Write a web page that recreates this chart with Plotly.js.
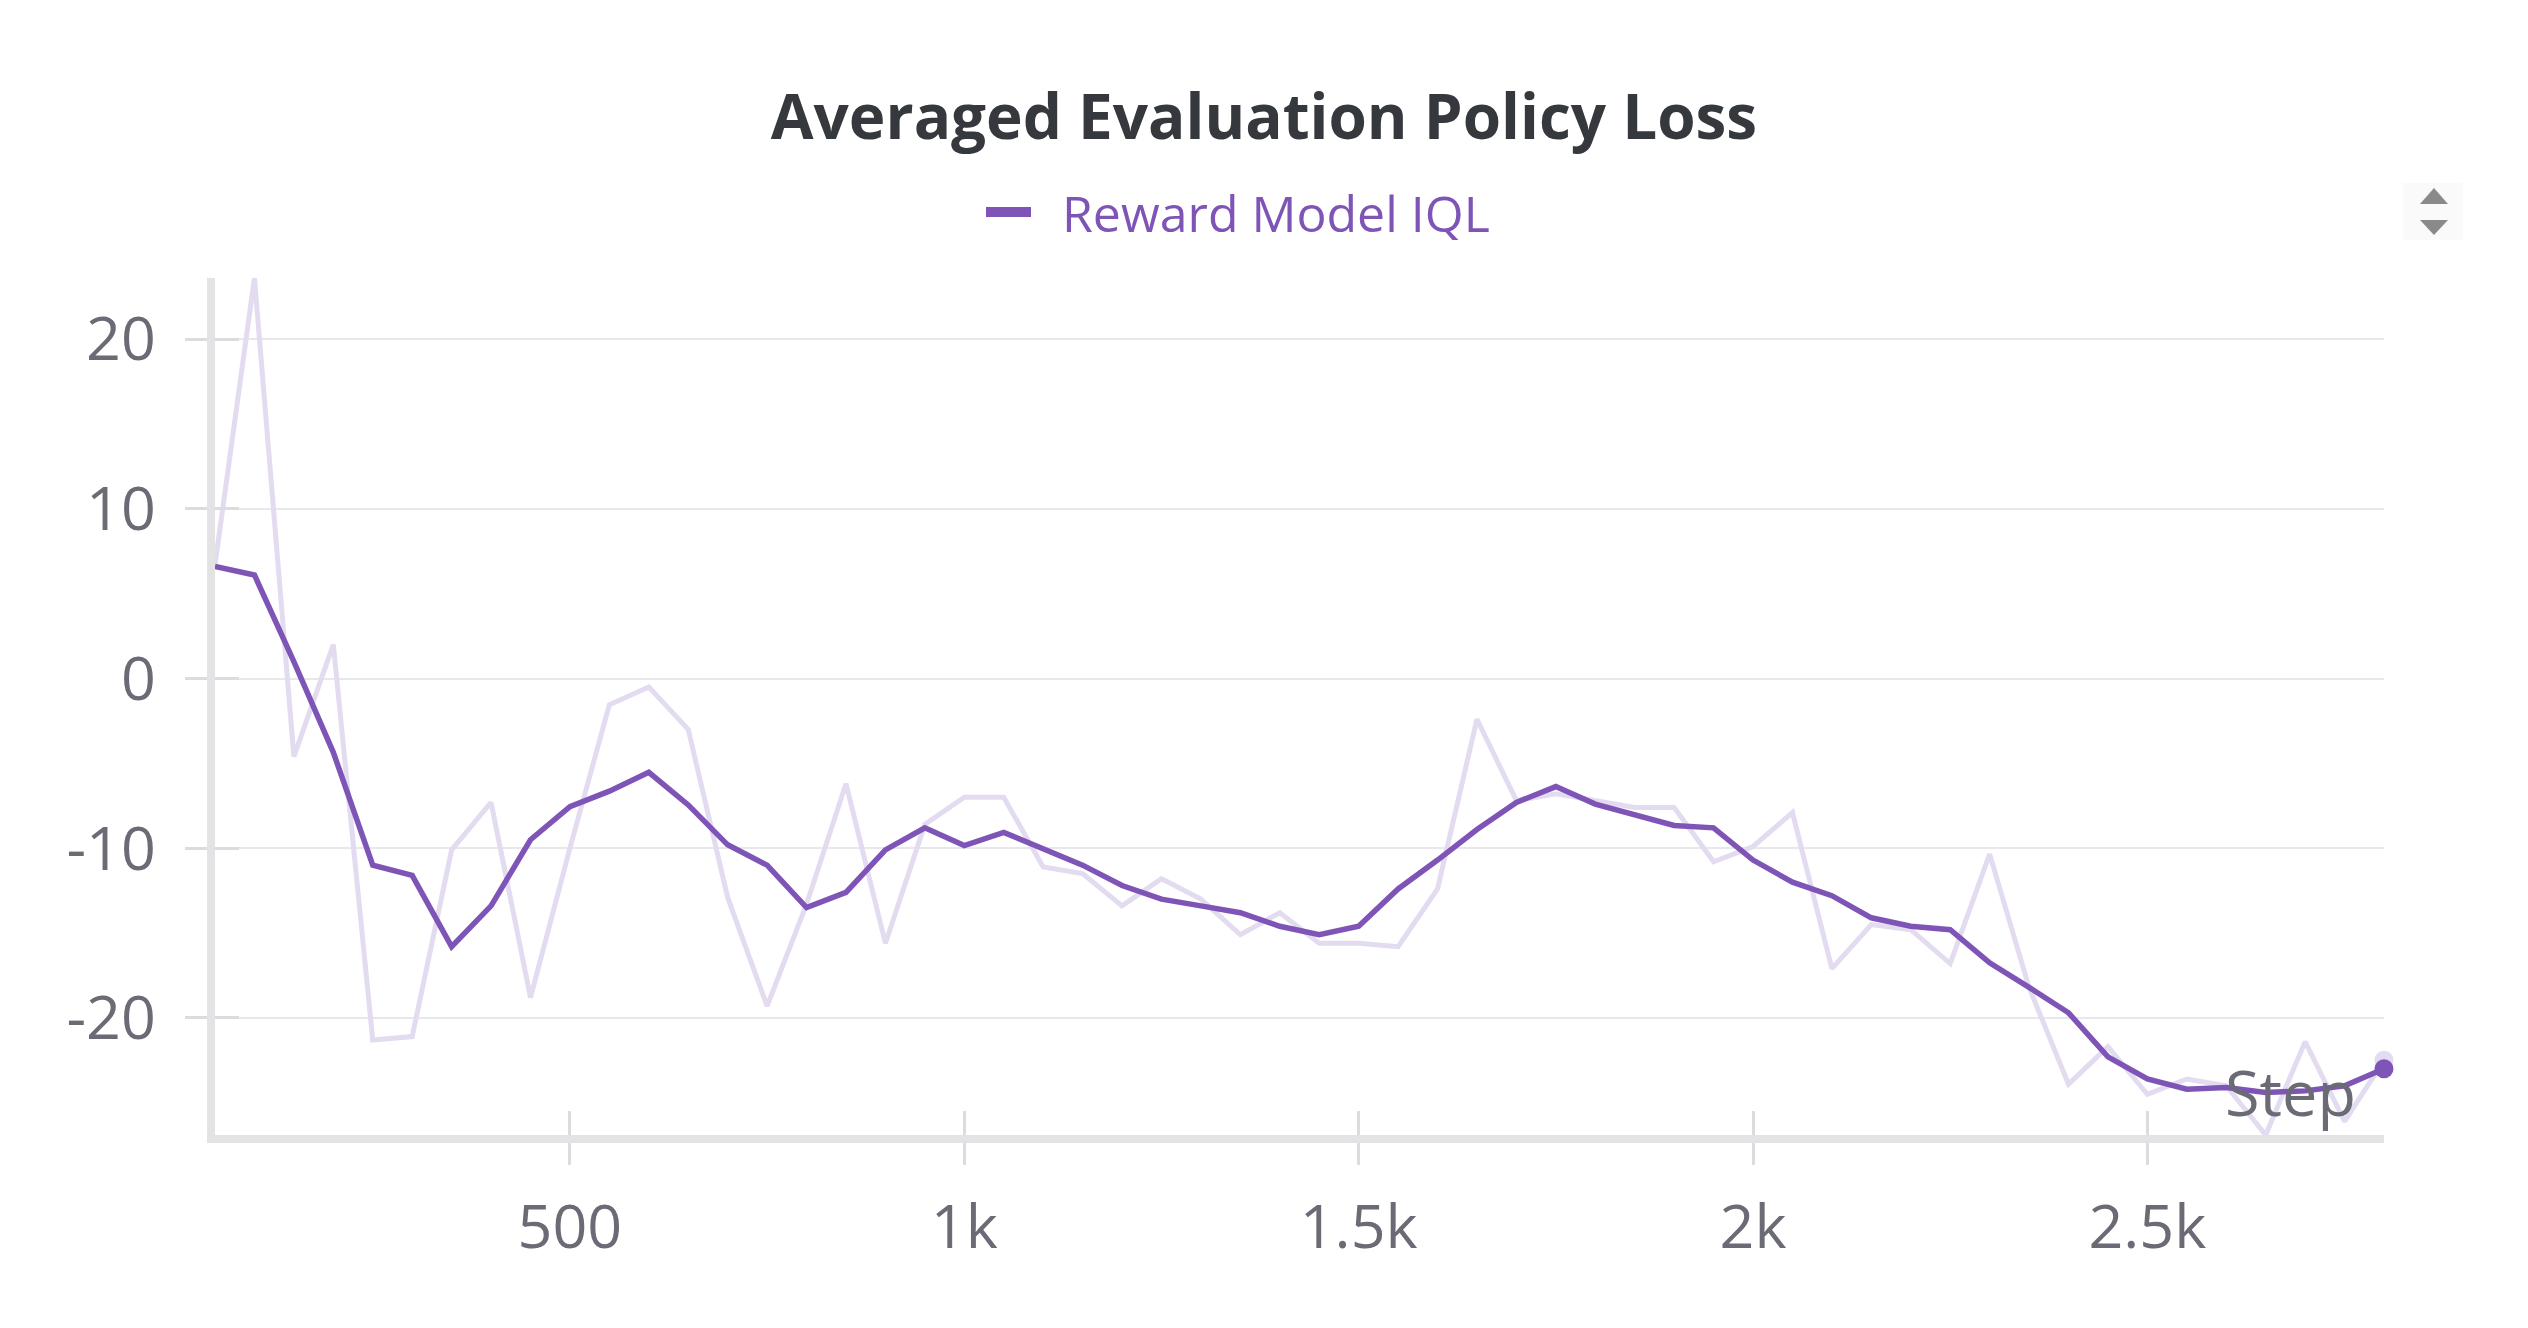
<!DOCTYPE html>
<html>
<head>
<meta charset="utf-8">
<script src="https://cdn.plot.ly/plotly-3.0.1.min.js"></script>
<style>
  html, body { margin: 0; padding: 0; background: #ffffff; }
  #chart { width: 2528px; height: 1328px; }
</style>
</head>
<body>
<div id="chart"></div>
<script>
// ---------------- data ----------------
const steps = [50,100,150,200,250,300,350,400,450,500,550,600,650,700,750,800,850,900,950,1000,
  1050,1100,1150,1200,1250,1300,1350,1400,1450,1500,1550,1600,1650,1700,1750,1800,1850,1900,1950,2000,
  2050,2100,2150,2200,2250,2300,2350,2400,2450,2500,2550,2600,2650,2700,2750,2800];

const rawLoss = [6.7,23.6,-4.6,2.0,-21.3,-21.1,-10.1,-7.3,-18.8,-10.0,-1.55,-0.5,-3.0,-12.9,-19.3,-13.3,-6.2,-15.6,-8.6,-7.0,
  -7.0,-11.1,-11.5,-13.4,-11.8,-13.0,-15.1,-13.8,-15.6,-15.6,-15.8,-12.4,-2.4,-7.2,-6.8,-7.2,-7.6,-7.6,-10.8,-9.9,
  -7.9,-17.1,-14.5,-14.8,-16.8,-10.35,-18.2,-23.9,-21.7,-24.5,-23.6,-24.0,-26.9,-21.4,-26.1,-22.5];

const smoothLoss = [6.6,6.1,1.0,-4.35,-11.0,-11.6,-15.8,-13.4,-9.5,-7.55,-6.64,-5.53,-7.45,-9.8,-11.0,-13.5,-12.6,-10.1,-8.8,-9.84,
  -9.07,-10.0,-11.0,-12.2,-13.0,-13.4,-13.8,-14.6,-15.1,-14.6,-12.4,-10.7,-8.9,-7.3,-6.37,-7.4,-8.05,-8.66,-8.8,-10.7,
  -12.0,-12.8,-14.1,-14.6,-14.8,-16.75,-18.2,-19.7,-22.3,-23.6,-24.2,-24.1,-24.4,-24.3,-24.0,-23.0];

const seriesName = 'Reward Model IQL';
const chartTitle = 'Averaged Evaluation Policy Loss';
const xAxisLabel = 'Step';

const xTickVals = [500,1000,1500,2000,2500];
const xTickText = ['500','1k','1.5k','2k','2.5k'];
const yTickVals = [20,10,0,-10,-20];
const yTickText = ['20','10','0','-10','-20'];

const xRange = [50, 2800];
const yRange = [-26.9, 23.6];

// ---------------- styling ----------------
const W = 2528, H = 1328;
const M = {l: 215, r: 144, t: 278, b: 193};
const purple = '#7e55b6';
const lightPurple = '#e3dbf0';
const gridColor = '#e8e8ea';
const axisColor = '#e3e3e6';
const tickColor = '#dcdcdf';
const labelColor = '#6b6b76';
const FONT = '"Open Sans", "Noto Sans", sans-serif';

const last = steps.length - 1;

// pixel -> paper helpers for decorations
const pw = W - M.l - M.r, ph = H - M.t - M.b;
const px = x => (x - M.l) / pw;
const py = y => (H - M.b - y) / ph;

const traces = [
  { // raw (unsmoothed) series
    x: steps, y: rawLoss, type: 'scatter', mode: 'lines',
    line: {color: lightPurple, width: 5}, showlegend: false, hoverinfo: 'skip',
    xaxis: 'x', yaxis: 'y'
  },
  { // last raw point
    x: [steps[last]], y: [rawLoss[last]], type: 'scatter', mode: 'markers',
    marker: {color: lightPurple, size: 19}, showlegend: false, hoverinfo: 'skip',
    cliponaxis: false, xaxis: 'x', yaxis: 'y'
  },
  { // smoothed series
    x: steps, y: smoothLoss, type: 'scatter', mode: 'lines',
    line: {color: purple, width: 5.5}, showlegend: false,
    xaxis: 'x2', yaxis: 'y2'
  },
  { // last smoothed point
    x: [steps[last]], y: [smoothLoss[last]], type: 'scatter', mode: 'markers',
    marker: {color: purple, size: 19}, showlegend: false,
    cliponaxis: false, xaxis: 'x2', yaxis: 'y2'
  },
  { // legend entry
    x: [null], y: [null], type: 'scatter', mode: 'lines',
    name: '\u00a0\u00a0' + seriesName,
    line: {color: purple, width: 10}, showlegend: true,
    xaxis: 'x2', yaxis: 'y2'
  }
];

const tickFont = {family: FONT, size: 61, color: labelColor};

const layout = {
  width: W, height: H,
  margin: M,
  paper_bgcolor: '#ffffff', plot_bgcolor: '#ffffff',
  font: {family: FONT, color: labelColor},
  title: {
    text: chartTitle,
    font: {family: FONT, size: 62, color: '#35383c', weight: 700},
    x: 0.5, xref: 'container', xanchor: 'center',
    y: 1 - 117 / H, yref: 'container', yanchor: 'middle'
  },
  showlegend: true,
  legend: {
    orientation: 'h',
    x: 1238 / W, xref: 'container', xanchor: 'center',
    y: 1 - 212 / H, yref: 'container', yanchor: 'middle',
    itemwidth: 45,
    font: {family: FONT, size: 50, color: purple},
    bgcolor: 'rgba(0,0,0,0)'
  },
  xaxis: {
    range: xRange, tickvals: xTickVals, ticktext: xTickText,
    showgrid: false, zeroline: false,
    showline: true, linecolor: axisColor, linewidth: 8,
    ticks: 'outside', ticklen: 22, tickwidth: 3, tickcolor: tickColor,
    ticklabelstandoff: 10,
    tickfont: tickFont
  },
  yaxis: {
    range: yRange, tickvals: yTickVals, ticktext: yTickText,
    showgrid: true, gridcolor: gridColor, gridwidth: 2, zeroline: false,
    showline: true, linecolor: axisColor, linewidth: 8,
    ticks: 'outside', ticklen: 22, tickwidth: 3, tickcolor: tickColor,
    ticklabelstandoff: 17,
    tickfont: tickFont
  },
  xaxis2: {
    overlaying: 'x', anchor: 'y2', range: xRange, tickvals: xTickVals,
    showticklabels: false, showgrid: false, zeroline: false, showline: false,
    ticks: 'inside', ticklen: 24, tickwidth: 3, tickcolor: tickColor
  },
  yaxis2: {
    overlaying: 'y', anchor: 'x2', range: yRange, tickvals: yTickVals,
    showticklabels: false, showgrid: false, zeroline: false, showline: false,
    ticks: 'inside', ticklen: 24, tickwidth: 3, tickcolor: tickColor
  },
  annotations: [
    {
      text: xAxisLabel, showarrow: false,
      xref: 'paper', x: 1, xanchor: 'right', xshift: -26,
      yref: 'paper', y: 0, yanchor: 'middle', yshift: 44,
      font: {family: FONT, size: 63, color: labelColor}
    }
  ],
  shapes: [
    {type: 'rect', xref: 'paper', yref: 'paper', layer: 'below',
     x0: px(2403), x1: px(2463), y0: py(240), y1: py(183),
     fillcolor: '#fafafa', line: {width: 0}},
    {type: 'path', xref: 'paper', yref: 'paper',
     path: `M ${px(2420)} ${py(204)} L ${px(2448)} ${py(204)} L ${px(2434)} ${py(188)} Z`,
     fillcolor: '#8a8a8a', line: {width: 0}},
    {type: 'path', xref: 'paper', yref: 'paper',
     path: `M ${px(2420)} ${py(220)} L ${px(2448)} ${py(220)} L ${px(2434)} ${py(235)} Z`,
     fillcolor: '#8a8a8a', line: {width: 0}}
  ]
};

Plotly.newPlot('chart', traces, layout, {displayModeBar: false});
</script>
</body>
</html>
